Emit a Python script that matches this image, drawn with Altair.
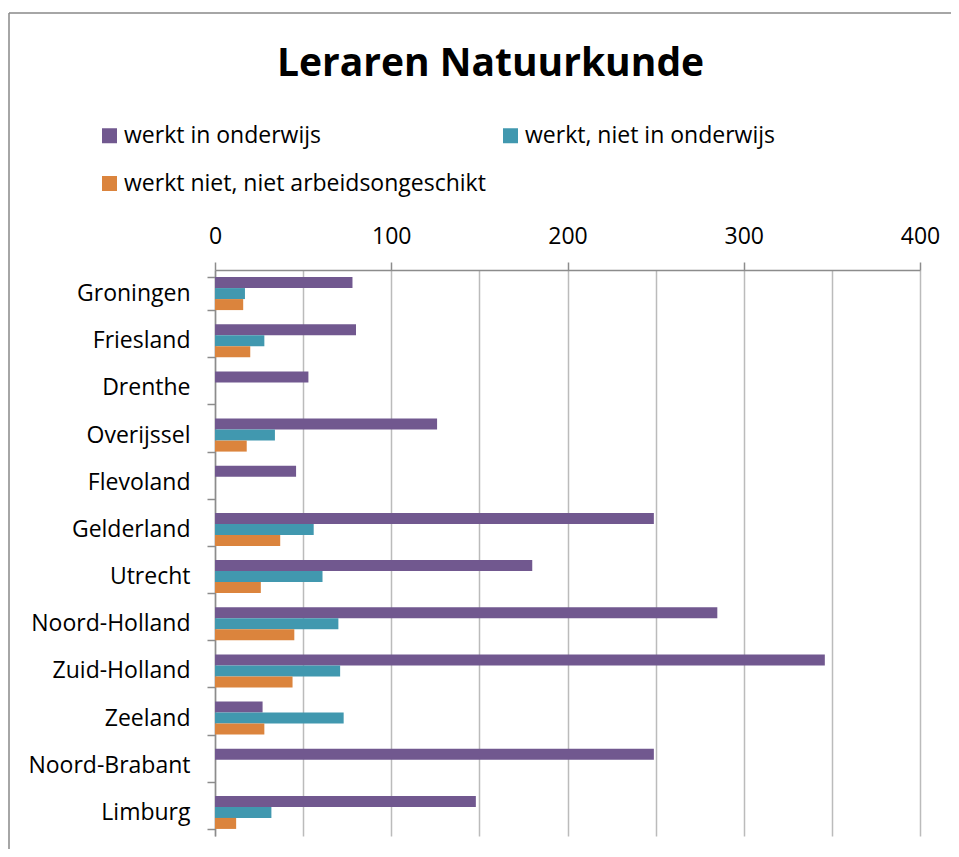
import altair as alt
import pandas as pd

provinces = ["Groningen", "Friesland", "Drenthe", "Overijssel", "Flevoland", "Gelderland",
             "Utrecht", "Noord-Holland", "Zuid-Holland", "Zeeland", "Noord-Brabant", "Limburg"]
series = ["werkt in onderwijs", "werkt, niet in onderwijs", "werkt niet, niet arbeidsongeschikt"]
werkt_in_onderwijs = [78, 80, 53, 126, 46, 249, 180, 285, 346, 27, 249, 148]
werkt_niet_in_onderwijs = [17, 28, None, 34, None, 56, 61, 70, 71, 73, None, 32]
werkt_niet = [16, 20, None, 18, None, 37, 26, 45, 44, 28, None, 12]
colors = ["#71588F", "#4198AF", "#DB843D"]
x_ticks = [0, 50, 100, 150, 200, 250, 300, 350, 400]
title_text = "Leraren Natuurkunde"

rows = []
for s, vals in zip(series, [werkt_in_onderwijs, werkt_niet_in_onderwijs, werkt_niet]):
    for p, v in zip(provinces, vals):
        rows.append({"provincie": p, "reeks": s, "aantal": v})
df = pd.DataFrame(rows)

FONT = "Open Sans"
AXIS_GREY = "#8C8C8C"

bars = alt.Chart(df).mark_bar().encode(
    x=alt.X(
        "aantal:Q",
        scale=alt.Scale(domain=[0, 400], nice=False, zero=True),
        axis=alt.Axis(
            orient="top", values=x_ticks, title=None,
            labelExpr="datum.value % 100 == 0 ? datum.label : ''",
            labelFlush=False, labelOverlap=False,
            grid=True, gridColor="#BBBBBB", gridWidth=1.5,
            domainColor=AXIS_GREY, domainWidth=1.5,
            tickColor=AXIS_GREY, tickWidth=1.5, tickSize=8,
            tickOpacity={"condition": {"test": "datum.value % 100 == 0", "value": 1}, "value": 0},
            labelFont=FONT, labelFontSize=23, labelColor="black", labelPadding=14,
        ),
    ),
    y=alt.Y(
        "provincie:N", sort=provinces,
        scale=alt.Scale(paddingInner=0.3, paddingOuter=0.15),
        axis=alt.Axis(
            title=None, tickBand="extent", grid=False,
            domainColor=AXIS_GREY, domainWidth=1.5,
            tickColor=AXIS_GREY, tickWidth=1.5, tickSize=8,
            labelFont=FONT, labelFontSize=23, labelColor="black", labelPadding=17,
            labelLimit=0,
        ),
    ),
    yOffset=alt.YOffset("reeks:N", sort=series, scale=alt.Scale(paddingInner=0, paddingOuter=0)),
    color=alt.Color(
        "reeks:N", sort=series,
        scale=alt.Scale(domain=series, range=colors),
        legend=alt.Legend(
            title=None, orient="none", legendX=-117, legendY=-146,
            direction="horizontal", columns=2,
            symbolType="square", symbolSize=225, symbolStrokeWidth=0,
            labelFont=FONT, labelFontSize=23, labelColor="black", labelOffset=3,
            columnPadding=13, rowPadding=24, labelLimit=0,
        ),
    ),
)

frame_df = pd.DataFrame({"k": [0]})
top_line = alt.Chart(frame_df).mark_rule(color="#888888", strokeWidth=1.5).encode(
    x=alt.value(-206), x2=alt.value(760), y=alt.value(-257)
)
left_line = alt.Chart(frame_df).mark_rule(color="#888888", strokeWidth=1.5).encode(
    x=alt.value(-206), y=alt.value(-257), y2=alt.value(620)
)

chart = alt.layer(top_line, left_line, bars).properties(
    width=705, height=566,
    title=alt.TitleParams(
        title_text, font=FONT, fontSize=39, fontWeight="bold", color="black",
        anchor="middle", frame="group", dx=-77, dy=82, offset=10,
    ),
    autosize=alt.AutoSizeParams(type="none"),
    padding={"left": 207, "top": 262, "right": 31, "bottom": 13},
    background="white",
).configure_view(stroke=None)

chart.save("out.html", embed_options={"renderer": "svg", "actions": False})
